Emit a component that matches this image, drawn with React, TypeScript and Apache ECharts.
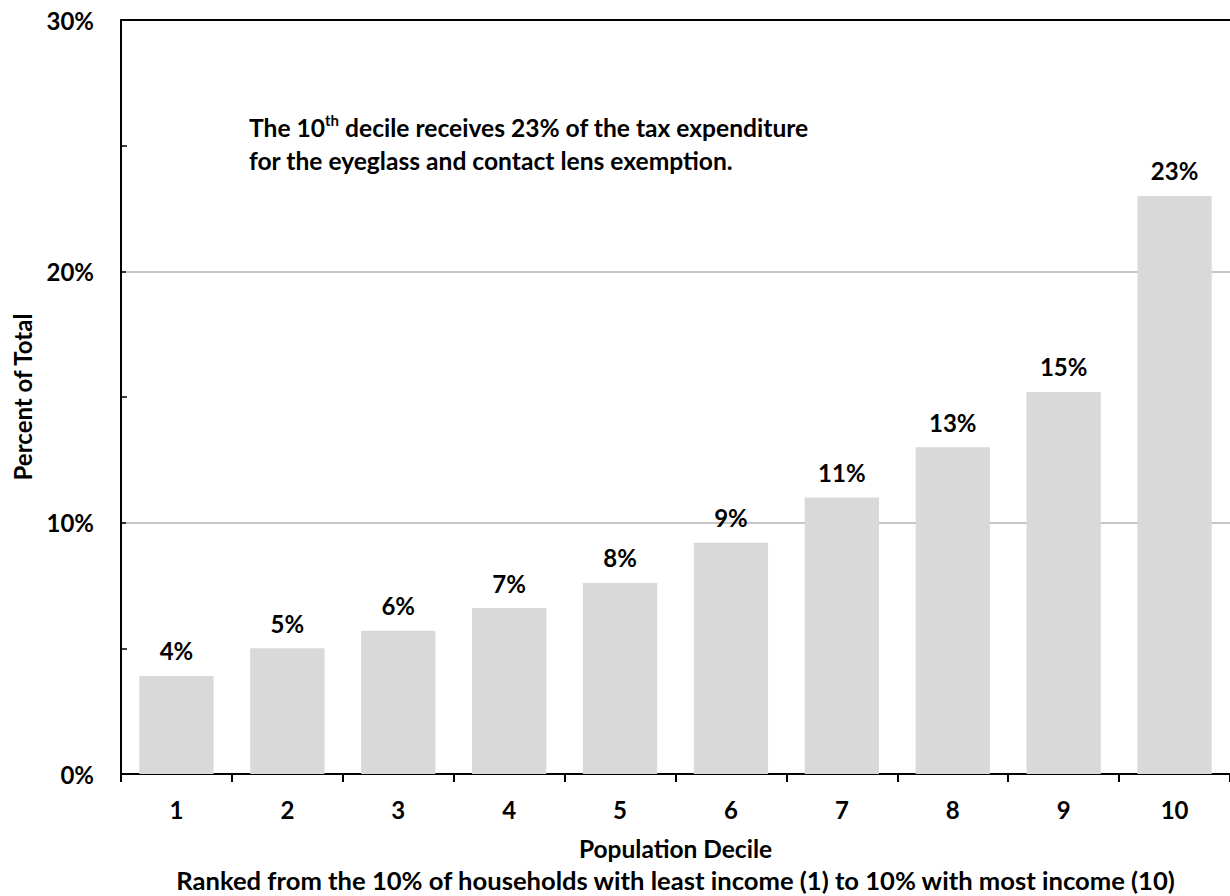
import React, { useEffect, useRef } from "react";
import * as echarts from "echarts";

const categories = ["1", "2", "3", "4", "5", "6", "7", "8", "9", "10"];
const shares = [3.9, 5.0, 5.7, 6.6, 7.6, 9.2, 11.0, 13.0, 15.2, 23.0];
const yTicks = [0, 10, 20, 30];
const annotationLine1 = ["The 10", "th", " decile receives 23% of the tax expenditure"];
const annotationLine2 = "for the eyeglass and contact lens exemption.";
const xTitle = "Population Decile";
const xSubtitle = "Ranked from the 10% of households with least income (1) to 10% with most income (10)";
const yTitle = "Percent of Total";

const FONT = "Lato, 'Open Sans', sans-serif";
const FS = 24;

export default function App() {
  const ref = useRef<HTMLDivElement>(null);
  useEffect(() => {
    if (!ref.current) return;
    const chart = echarts.init(ref.current, undefined, { renderer: "svg" });
    chart.setOption({
      animation: false,
      textStyle: { fontFamily: FONT },
      grid: { left: 121, right: 0, top: 20, bottom: 122, containLabel: false, outerBoundsMode: "none" },
      xAxis: [
        {
          type: "category",
          data: categories,
          axisLine: { lineStyle: { color: "#000", width: 2 } },
          axisTick: { show: true, length: 8, lineStyle: { color: "#000", width: 2 } },
          axisLabel: { color: "#000", fontWeight: "bold", fontSize: FS, margin: 23, fontFamily: FONT },
          name: "{t|" + xTitle + "}\n{s|" + xSubtitle + "}",
          nameLocation: "middle",
          nameGap: 58,
          nameTextStyle: {
            color: "#000",
            fontWeight: "bold",
            fontSize: FS,
            lineHeight: 32,
            fontFamily: FONT,
            rich: {
              t: { color: "#000", fontWeight: "bold", fontSize: 24.5, lineHeight: 32, fontFamily: FONT },
              s: { color: "#000", fontWeight: "bold", fontSize: 25.6, lineHeight: 32, fontFamily: FONT },
            },
          },
        },
        {
          type: "category",
          data: categories,
          position: "top",
          axisLine: { show: true, lineStyle: { color: "#000", width: 2 } },
          axisTick: { show: false },
          axisLabel: { show: false },
        },
      ],
      yAxis: {
        type: "value",
        min: yTicks[0],
        max: yTicks[yTicks.length - 1],
        interval: 10,
        axisLine: { show: true, lineStyle: { color: "#000", width: 2 } },
        axisTick: { show: true, inside: true, length: 5, lineStyle: { color: "#000", width: 1.5 } },
        minorTick: { show: true, splitNumber: 2, length: 6, lineStyle: { color: "#000", width: 1.5 } },
        axisLabel: {
          color: "#000",
          fontWeight: "bold",
          fontSize: FS,
          margin: 27,
          fontFamily: FONT,
          formatter: (v: number) => v + "%",
        },
        splitLine: { show: true, lineStyle: { color: "#b3b3b3", width: 1.5 } },
        name: yTitle,
        nameLocation: "middle",
        nameGap: 87,
        nameTextStyle: { color: "#000", fontWeight: "bold", fontSize: FS, fontFamily: FONT },
      },
      series: [
        {
          type: "bar",
          data: shares,
          xAxisIndex: 0,
          barCategoryGap: "33%",
          itemStyle: { color: "#d9d9d9" },
          label: {
            show: true,
            position: "top",
            distance: 13,
            color: "#000",
            fontWeight: "bold",
            fontSize: FS,
            fontFamily: FONT,
            formatter: (p: any) => Math.round(p.value) + "%",
          },
        },
      ],
      graphic: [
        {
          type: "text",
          left: 249,
          top: 112,
          style: {
            text: "{a|" + annotationLine1[0] + "}{s|" + annotationLine1[1] + "}{a|" + annotationLine1[2] + "}",
            rich: {
              a: { fontSize: 24.6, fontWeight: "bold", fill: "#000", fontFamily: FONT, lineHeight: 30 },
              s: { fontSize: 15, fontWeight: "bold", fill: "#000", fontFamily: FONT, verticalAlign: "top", lineHeight: 30 },
            },
          },
        },
        {
          type: "text",
          left: 249,
          top: 148,
          style: {
            text: annotationLine2,
            fontSize: 24.6,
            fontWeight: "bold",
            fill: "#000",
            fontFamily: FONT,
          },
        },
      ],
    });
    return () => chart.dispose();
  }, []);
  return (
    <div
      ref={ref}
      style={{ position: "absolute", left: 0, top: 0, width: 1230, height: 896, background: "#fff" }}
    />
  );
}
